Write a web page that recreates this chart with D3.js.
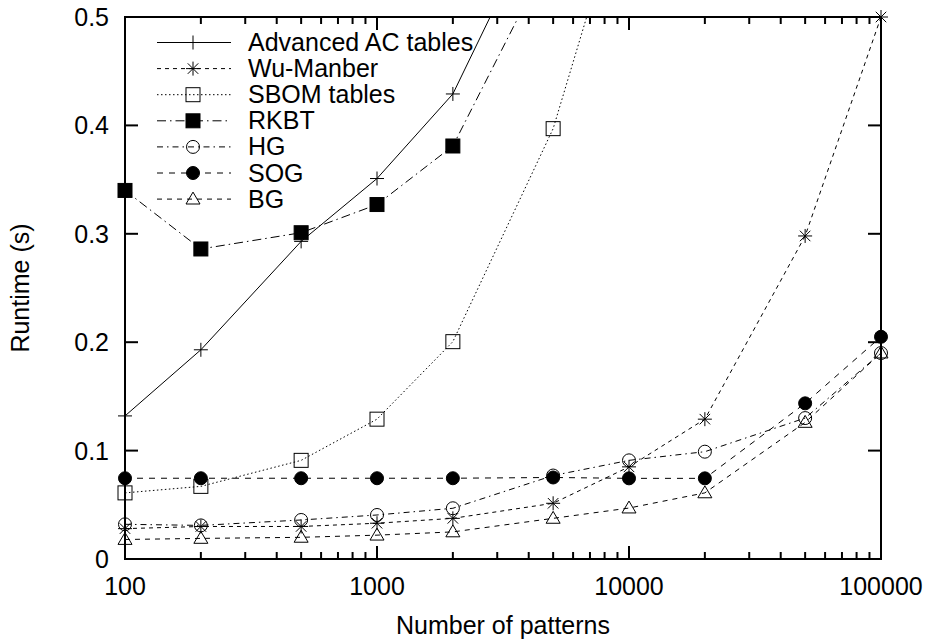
<!DOCTYPE html>
<html>
<head>
<meta charset="utf-8">
<script src="https://cdn.jsdelivr.net/npm/d3@7"></script>
<style>
  body { margin: 0; background: #fff; }
  text { font-family: "Liberation Sans", Arial, sans-serif; font-size: 25px; fill: #000; }
</style>
</head>
<body>
<script>
// number of patterns
const patterns = [100, 200, 500, 1000, 2000, 5000, 10000, 20000, 50000, 100000];

// runtimes (s)
const acTables   = [0.132, 0.193, 0.293, 0.351, 0.429, 0.62];
const wuManber   = [0.028, 0.030, 0.030, 0.033, 0.0375, 0.0514, 0.085, 0.129, 0.298, 0.5];
const sbomTables = [0.061, 0.067, 0.091, 0.129, 0.2005, 0.397, 0.63];
const rkbt       = [0.340, 0.286, 0.301, 0.327, 0.381, 0.563];
const hg         = [0.032, 0.031, 0.036, 0.0406, 0.0468, 0.077, 0.091, 0.099, 0.13, 0.19];
const sog        = [0.0745, 0.0745, 0.0745, 0.0745, 0.0745, 0.0752, 0.0744, 0.0744, 0.1436, 0.205];
const bg         = [0.018, 0.019, 0.020, 0.022, 0.025, 0.0375, 0.047, 0.061, 0.126, 0.19];

const seriesNames = ["Advanced AC tables", "Wu-Manber", "SBOM tables", "RKBT", "HG", "SOG", "BG"];
const xTickLabels = ["100", "1000", "10000", "100000"];
const yTickLabels = ["0", "0.1", "0.2", "0.3", "0.4", "0.5"];

const width = 932, height = 644;
const pL = 125, pR = 881, pT = 17, pB = 559;

const x = d3.scaleLog().domain([100, 100000]).range([pL, pR]);
const y = d3.scaleLinear().domain([0, 0.5]).range([pB, pT]);

const svg = d3.select("body").append("svg")
    .attr("width", width)
    .attr("height", height);

svg.append("defs").append("clipPath").attr("id", "plot")
    .append("rect")
    .attr("x", pL - 10).attr("y", pT)
    .attr("width", pR - pL + 20).attr("height", pB - pT);

// style per series: dash pattern + marker type
const styles = [
    { dash: null,          mark: "plus" },
    { dash: "4,4",         mark: "star" },
    { dash: "1.5,2.5",     mark: "box" },
    { dash: "9,4,1.5,4",   mark: "fbox" },
    { dash: "6,4,1.5,4",   mark: "circle" },
    { dash: "6,6",         mark: "fcircle" },
    { dash: "5,5",         mark: "tri" }
];
const allValues = [acTables, wuManber, sbomTables, rkbt, hg, sog, bg];

function drawMark(g, type, cx, cy) {
    const s = 7;
    if (type === "plus") {
        g.append("path").attr("d", `M${cx - s},${cy}H${cx + s}M${cx},${cy - s}V${cy + s}`)
            .attr("stroke", "#000").attr("stroke-width", 1);
    } else if (type === "star") {
        const d = s * 0.75;
        g.append("path")
            .attr("d", `M${cx - s},${cy}H${cx + s}M${cx},${cy - s}V${cy + s}M${cx - d},${cy - d}L${cx + d},${cy + d}M${cx - d},${cy + d}L${cx + d},${cy - d}`)
            .attr("stroke", "#000").attr("stroke-width", 1);
    } else if (type === "box" || type === "fbox") {
        g.append("rect").attr("x", cx - s).attr("y", cy - s).attr("width", 2 * s).attr("height", 2 * s)
            .attr("fill", type === "fbox" ? "#000" : "none")
            .attr("stroke", "#000").attr("stroke-width", 1);
    } else if (type === "circle" || type === "fcircle") {
        g.append("circle").attr("cx", cx).attr("cy", cy).attr("r", s - 0.5)
            .attr("fill", type === "fcircle" ? "#000" : "none")
            .attr("stroke", "#000").attr("stroke-width", 1);
    } else if (type === "tri") {
        g.append("path")
            .attr("d", `M${cx},${cy - s}L${cx + s},${cy + s * 0.7}L${cx - s},${cy + s * 0.7}Z`)
            .attr("fill", "none").attr("stroke", "#000").attr("stroke-width", 1);
    }
}

const line = d3.line()
    .x(d => x(d[0]))
    .y(d => y(d[1]));

const plot = svg.append("g").attr("clip-path", "url(#plot)");

allValues.forEach((vals, i) => {
    const pts = vals.map((v, j) => [patterns[j], v]);
    plot.append("path")
        .attr("d", line(pts))
        .attr("fill", "none")
        .attr("stroke", "#000")
        .attr("stroke-width", 1)
        .attr("stroke-dasharray", styles[i].dash);
    const mg = svg.append("g");
    pts.filter(p => p[1] <= 0.5).forEach(p => drawMark(mg, styles[i].mark, x(p[0]), y(p[1])));
});

// frame and ticks (mirrored on all four sides, gnuplot style)
const axes = svg.append("g").attr("stroke", "#000").attr("stroke-width", 2);
axes.append("rect")
    .attr("x", pL).attr("y", pT)
    .attr("width", pR - pL).attr("height", pB - pT)
    .attr("fill", "none");

const majorLen = 13, minorLen = 7;
const xTicks = [];
for (let dec = 100; dec <= 100000; dec *= 10) {
    for (let k = 1; k <= 9; k++) {
        const v = dec * k;
        if (v > 100000) break;
        xTicks.push({ v: v, major: k === 1 });
    }
}
xTicks.forEach(t => {
    const px = x(t.v), len = t.major ? majorLen : minorLen;
    axes.append("line").attr("x1", px).attr("x2", px).attr("y1", pB).attr("y2", pB - len);
    axes.append("line").attr("x1", px).attr("x2", px).attr("y1", pT).attr("y2", pT + len);
});
yTickLabels.forEach(lbl => {
    const py = y(+lbl);
    axes.append("line").attr("x1", pL).attr("x2", pL + majorLen).attr("y1", py).attr("y2", py);
    axes.append("line").attr("x1", pR).attr("x2", pR - majorLen).attr("y1", py).attr("y2", py);
});

// tick labels
svg.selectAll(".xl").data(xTickLabels).enter().append("text")
    .attr("x", d => x(+d)).attr("y", 595)
    .attr("text-anchor", "middle").text(d => d);
svg.selectAll(".yl").data(yTickLabels).enter().append("text")
    .attr("x", 109).attr("y", d => y(+d) + 9)
    .attr("text-anchor", "end").text(d => d);

// axis titles
svg.append("text").attr("x", (pL + pR) / 2).attr("y", 634)
    .attr("text-anchor", "middle").text("Number of patterns");
svg.append("text")
    .attr("transform", `translate(29,${(pT + pB) / 2}) rotate(-90)`)
    .attr("text-anchor", "middle").text("Runtime (s)");

// legend
const leg = svg.append("g");
seriesNames.forEach((name, i) => {
    const ly = 42.5 + i * 26.1;
    leg.append("line").attr("x1", 157).attr("x2", 231).attr("y1", ly).attr("y2", ly)
        .attr("stroke", "#000").attr("stroke-width", 1)
        .attr("stroke-dasharray", styles[i].dash);
    drawMark(leg, styles[i].mark, 193, ly);
    leg.append("text").attr("x", 248).attr("y", ly + 8.5).text(name);
});
</script>
</body>
</html>
